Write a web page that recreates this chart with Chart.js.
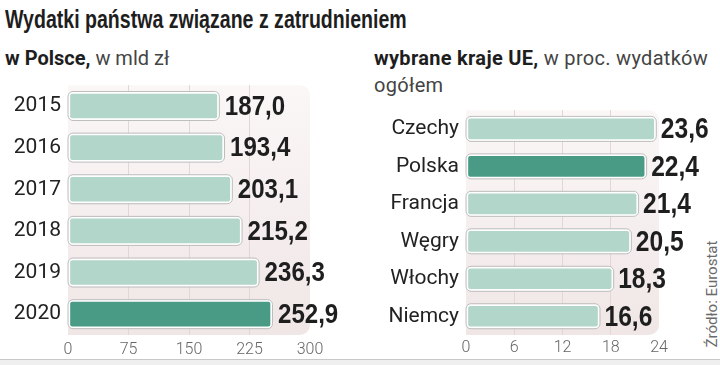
<!DOCTYPE html>
<html>
<head>
<meta charset="utf-8">
<script src="https://cdn.jsdelivr.net/npm/chart.js@4"></script>
<style>
  body { margin: 0; width: 720px; height: 365px; background: #fff; position: relative; overflow: hidden; font-family: Roboto, "Noto Sans", sans-serif; color: #222; }
  .abs { position: absolute; white-space: nowrap; }
  #title { left: 5px; top: 5px; font: bold 25px "Liberation Sans", Arial, sans-serif; color: #1e1e1e; transform-origin: 0 0; }
  .sub { font-size: 20px; color: #444; line-height: 27px; }
  .sub b { color: #1e1e1e; }
  #source { left: 712px; top: 294px; font-size: 15px; color: #6a6a6a; transform: translate(-50%, -50%) rotate(-90deg); }
  #bottom { left: 0; top: 359px; width: 720px; height: 6px; background: #efefef; border-top: 1px solid #c8c8c8; }
  #leftWrap { left: 0; top: 75px; width: 360px; height: 285px; }
  #rightWrap { left: 360px; top: 100px; width: 360px; height: 260px; }
</style>
</head>
<body>
<div id="title" class="abs">Wydatki państwa związane z zatrudnieniem</div>
<div class="abs sub" style="left:5px; top:45px;"><b>w Polsce,</b> w mld zł</div>
<div class="abs sub" style="left:374px; top:45px; letter-spacing:0.3px;"><b>wybrane kraje UE,</b> w proc. wydatków<br>ogółem</div>
<div id="source" class="abs">Źródło: Eurostat</div>
<div id="bottom" class="abs"></div>
<div id="leftWrap" class="abs"><canvas id="leftChart"></canvas></div>
<div id="rightWrap" class="abs"><canvas id="rightChart"></canvas></div>

<script>
// Data
const years = ['2015', '2016', '2017', '2018', '2019', '2020'];
const spendingPL = [187.0, 193.4, 203.1, 215.2, 236.3, 252.9];
const plTicks = [0, 75, 150, 225, 300];

const countries = ['Czechy', 'Polska', 'Francja', 'Węgry', 'Włochy', 'Niemcy'];
const shareEU = [23.6, 22.4, 21.4, 20.5, 18.3, 16.6];
const euTicks = [0, 6, 12, 18, 24];

const lightGreen = '#b2d6ca';
const darkGreen = '#4a9b86';

// the title font is condensed in the original, squeeze it to width
const titleEl = document.getElementById('title');
titleEl.style.transform = 'scaleX(' + (402 / titleEl.offsetWidth) + ')';

// pinkish plot background with rounded right corners
const plotBg = {
    id: 'plotBg',
    beforeDraw(chart) {
        const { ctx, chartArea: a } = chart;
        const g = ctx.createLinearGradient(0, a.top, 0, a.bottom);
        g.addColorStop(0, '#fbf7f7');
        g.addColorStop(1, '#f0e6e6');
        ctx.save();
        ctx.fillStyle = g;
        ctx.beginPath();
        ctx.roundRect(a.left, a.top, a.right - a.left, a.bottom - a.top, [0, 10, 10, 0]);
        ctx.fill();
        ctx.restore();
    }
};

// grey outline round the bars + value labels
const barExtras = {
    id: 'barExtras',
    afterDatasetsDraw(chart, args, opts) {
        const { ctx } = chart;
        const meta = chart.getDatasetMeta(0);
        const data = chart.data.datasets[0].data;
        ctx.save();
        meta.data.forEach((bar, i) => {
            const h = bar.height;
            ctx.strokeStyle = '#bdbdbd';
            ctx.lineWidth = 1;
            ctx.beginPath();
            ctx.roundRect(bar.base - 0.5, bar.y - h / 2 - 0.5, bar.x - bar.base + 1, h + 1, 5);
            ctx.stroke();

            ctx.save();
            ctx.translate(bar.x + opts.gap, bar.y + 1);
            ctx.scale(opts.squeeze, 1);
            ctx.fillStyle = '#1e1e1e';
            ctx.font = 'bold ' + opts.size + 'px "Liberation Sans", Arial, sans-serif';
            ctx.textBaseline = 'middle';
            ctx.textAlign = 'left';
            ctx.fillText(data[i].toFixed(1).replace('.', ','), 0, 0);
            ctx.restore();
        });
        ctx.restore();
    }
};

function createChart(id, labels, values, ticks, highlight, cfg) {
    const ctx = document.getElementById(id).getContext('2d');
    return new Chart(ctx, {
        type: 'bar',
        data: {
            labels: labels,
            datasets: [{
                data: values,
                backgroundColor: values.map((v, i) => i === highlight ? darkGreen : lightGreen),
                borderColor: '#ffffff',
                borderWidth: 2,
                borderRadius: 4,
                borderSkipped: false,
                barThickness: cfg.barThickness
            }]
        },
        options: {
            indexAxis: 'y',
            responsive: true,
            maintainAspectRatio: false,
            animation: false,
            layout: { padding: { top: cfg.padTop, right: cfg.padRight, left: 0, bottom: 0 } },
            scales: {
                x: {
                    min: ticks[0],
                    max: ticks[ticks.length - 1],
                    afterBuildTicks: axis => { axis.ticks = ticks.map(v => ({ value: v })); },
                    afterFit: axis => { axis.height = cfg.xHeight; },
                    grid: {
                        drawTicks: false,
                        color: c => (c.tick && c.tick.value > ticks[0] && c.tick.value < ticks[ticks.length - 1]) ? '#e4d6d6' : 'rgba(0,0,0,0)'
                    },
                    border: { display: false },
                    ticks: {
                        padding: cfg.tickPad,
                        color: '#666',
                        font: { family: 'Roboto', size: 16, weight: 300 }
                    }
                },
                y: {
                    afterFit: axis => { axis.width = cfg.yWidth; },
                    grid: { display: false, drawTicks: false },
                    border: { display: false },
                    ticks: {
                        padding: 7,
                        color: '#222',
                        font: { family: 'Roboto', size: 21, lineHeight: 0.3 }
                    }
                }
            },
            plugins: {
                legend: { display: false },
                tooltip: { enabled: false },
                barExtras: { size: cfg.labelSize, gap: cfg.gap, squeeze: cfg.squeeze }
            }
        },
        plugins: [plotBg, barExtras]
    });
}

createChart('leftChart', years, spendingPL, plTicks, 5, {
    barThickness: 28, padTop: 4, padRight: 50, xHeight: 25, tickPad: 5, yWidth: 68,
    labelSize: 28, gap: 6, squeeze: 0.86
});
createChart('rightChart', countries, shareEU, euTicks, 1, {
    barThickness: 24, padTop: 4, padRight: 61, xHeight: 25, tickPad: 3, yWidth: 106,
    labelSize: 30, gap: 5, squeeze: 0.82
});
</script>
</body>
</html>
